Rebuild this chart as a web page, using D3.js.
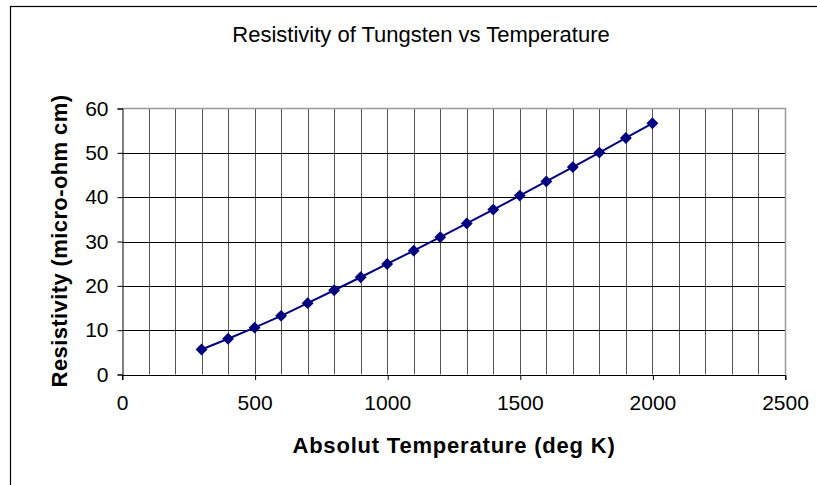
<!DOCTYPE html>
<html><head><meta charset="utf-8">
<script src="https://cdn.jsdelivr.net/npm/d3@7"></script>
<style>body{margin:0;background:#fff}svg{display:block;font-family:"Liberation Sans",Arial,sans-serif}</style>
</head><body>
<svg id="c" width="817" height="485"></svg>
<script>
const temperatures = [300,400,500,600,700,800,900,1000,1100,1200,1300,1400,1500,1600,1700,1800,1900,2000];
const resistivity = [5.65,8.06,10.56,13.23,16.09,19.00,21.94,24.93,27.94,30.98,34.08,37.19,40.36,43.55,46.78,50.05,53.35,56.67];
const xTicks = [0,500,1000,1500,2000,2500];
const yTicks = [0,10,20,30,40,50,60];
const xGrid = d3.range(0,2501,100);

const svg = d3.select("#c");
svg.append("rect").attr("x",10.5).attr("y",6.5).attr("width",830).attr("height",500)
  .attr("fill","#fff").attr("stroke","#000").attr("stroke-width",1.2);

const L=122, R=785, T=108.5, B=374.5;
const x = d3.scaleLinear().domain([0,2500]).range([L,R]);
const y = d3.scaleLinear().domain([0,60]).range([B,T]);

// gridlines
svg.append("g").selectAll("line").data(xGrid.filter(d=>d>0&&d<2500)).join("line")
  .attr("x1",d=>Math.round(x(d))+0.5).attr("x2",d=>Math.round(x(d))+0.5)
  .attr("y1",T).attr("y2",B).attr("stroke","#555").attr("stroke-width",1);
svg.append("g").selectAll("line").data(yTicks.filter(d=>d>0&&d<60)).join("line")
  .attr("x1",L).attr("x2",R).attr("y1",d=>Math.round(y(d))+0.5).attr("y2",d=>Math.round(y(d))+0.5)
  .attr("stroke","#000").attr("stroke-width",1);
// plot frame top/right
svg.append("path").attr("d",`M${L},${T}H${R+0.5}V${B}`).attr("fill","none").attr("stroke","#999").attr("stroke-width",1.5);

// axes
const ya = svg.append("g").attr("transform",`translate(${L+0.5},0)`)
  .call(d3.axisLeft(y).tickValues(yTicks).tickFormat(d3.format("d")).tickSize(5).tickPadding(9));
const xa = svg.append("g").attr("transform",`translate(0,${B+0.5})`)
  .call(d3.axisBottom(x).tickValues(xTicks).tickFormat(d3.format("d")).tickSize(5).tickPadding(15));
[ya,xa].forEach(a=>{
  a.attr("font-size",21).attr("font-family","Liberation Sans, Arial, sans-serif");
  a.select(".domain").attr("stroke","#000");
  a.selectAll(".tick line").attr("stroke","#000");
  a.selectAll("text").attr("fill","#000");
});
xa.selectAll(".tick line").attr("x1",0.5).attr("x2",0.5);

// line + markers
const line = d3.line().x((d,i)=>x(temperatures[i])).y(d=>y(d));
svg.append("path").datum(resistivity).attr("d",line).attr("fill","none")
  .attr("stroke","#000080").attr("stroke-width",2);
svg.append("g").selectAll("path").data(resistivity).join("path")
  .attr("d",d3.symbol().type(d3.symbolDiamond2).size(90))
  .attr("transform",(d,i)=>`translate(${x(temperatures[i])},${y(d)})`)
  .attr("fill","#000080");

// titles
svg.append("text").attr("x",421).attr("y",42).attr("text-anchor","middle")
  .attr("font-size",22).text("Resistivity of Tungsten vs Temperature");
svg.append("text").attr("x",454).attr("y",453).attr("text-anchor","middle")
  .attr("font-size",22).attr("font-weight","bold").attr("letter-spacing",0.8).text("Absolut Temperature (deg K)");
svg.append("text").attr("transform","translate(67,241) rotate(-90)").attr("text-anchor","middle")
  .attr("font-size",22).attr("font-weight","bold").attr("letter-spacing",0.4).text("Resistivity (micro-ohm cm)");
</script>
</body></html>
